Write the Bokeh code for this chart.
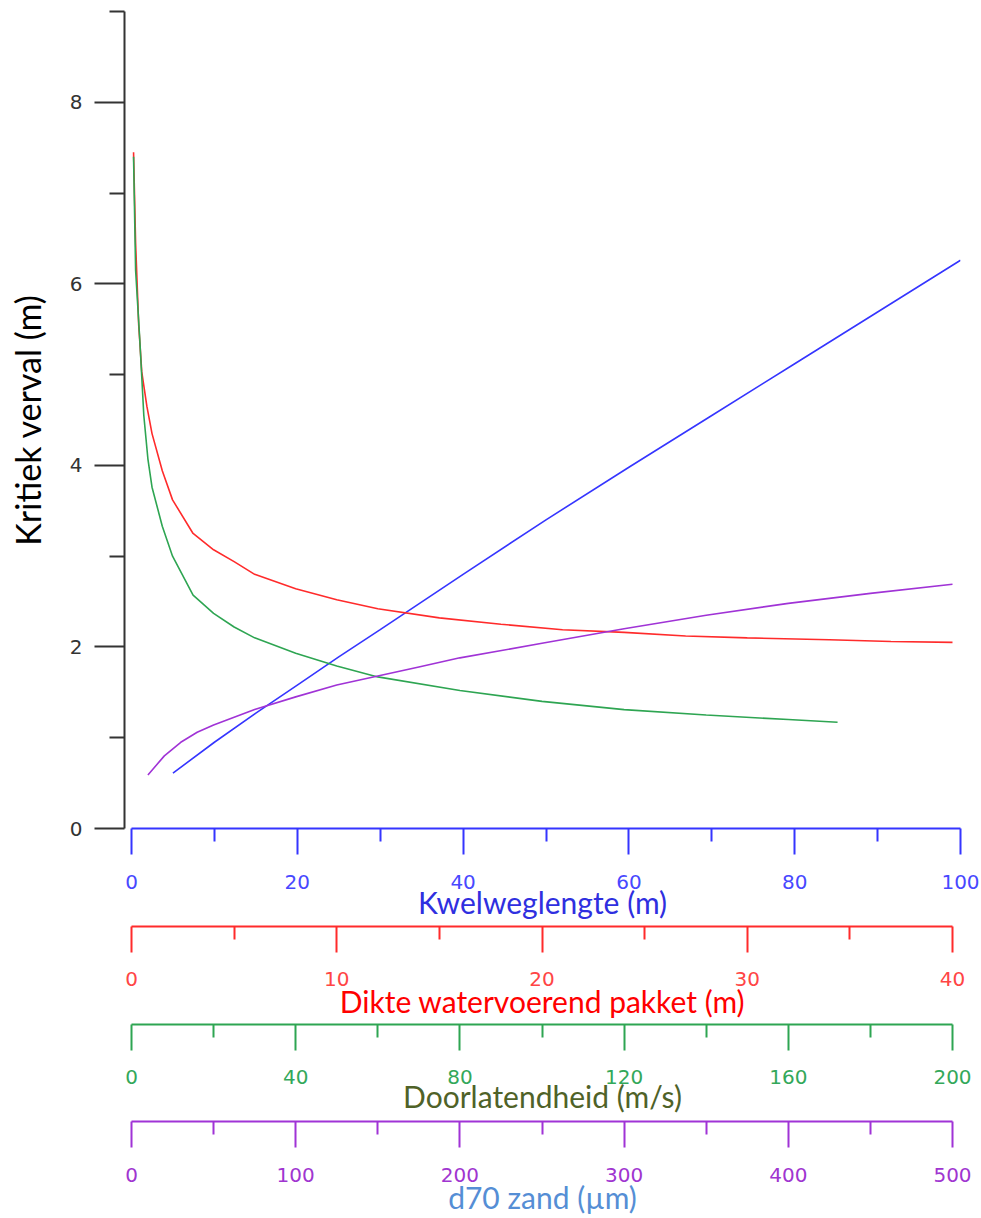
from bokeh.plotting import figure
from bokeh.models import Range1d, FixedTicker
from bokeh.layouts import column
from bokeh.embed import file_html
from bokeh.resources import INLINE

# ---------------- data ----------------
# Kwelweglengte (m) -> kritiek verval (m)
kwel_L = [5, 10, 15, 20, 25, 30, 40, 50, 60, 70, 80, 90, 100]
kwel_H = [0.61, 0.95, 1.27, 1.58, 1.89, 2.19, 2.80, 3.40, 3.98, 4.55, 5.12, 5.69, 6.26]

# Dikte watervoerend pakket (m) -> kritiek verval (m)
dikte_D = [0.1, 0.2, 0.35, 0.5, 0.75, 1, 1.5, 2, 3, 4, 5, 6, 8, 10, 12, 15, 18, 21, 24, 27, 30, 34, 37, 40]
dikte_H = [7.45, 6.45, 5.55, 5.03, 4.65, 4.35, 3.94, 3.62, 3.25, 3.07, 2.94, 2.80, 2.64, 2.52, 2.42, 2.32,
           2.25, 2.19, 2.16, 2.12, 2.10, 2.08, 2.06, 2.05]

# Doorlatendheid (m/s) -> kritiek verval (m)
door_k = [0.5, 1, 2, 3, 4, 5, 7.5, 10, 15, 20, 25, 30, 40, 50, 60, 80, 100, 120, 140, 160, 172]
door_H = [7.40, 6.15, 5.40, 4.55, 4.07, 3.76, 3.33, 3.00, 2.57, 2.37, 2.22, 2.10, 1.93, 1.79, 1.67, 1.52,
          1.40, 1.31, 1.25, 1.20, 1.17]

# d70 zand (um) -> kritiek verval (m)
d70_d = [10, 20, 30, 40, 50, 75, 100, 125, 150, 175, 200, 250, 300, 350, 400, 450, 500]
d70_H = [0.59, 0.80, 0.95, 1.06, 1.14, 1.31, 1.45, 1.58, 1.68, 1.78, 1.88, 2.04, 2.20, 2.35, 2.48, 2.59, 2.69]

# axis ticks
y_ticks = [0, 2, 4, 6, 8]
y_minor = [1, 3, 5, 7, 9]
kwel_ticks = [0, 20, 40, 60, 80, 100]
kwel_minor = [10, 30, 50, 70, 90]
dikte_ticks = [0, 10, 20, 30, 40]
dikte_minor = [5, 15, 25, 35]
door_ticks = [0, 40, 80, 120, 160, 200]
door_minor = [20, 60, 100, 140, 180]
d70_ticks = [0, 100, 200, 300, 400, 500]
d70_minor = [50, 150, 250, 350, 450]

# ---------------- layout (pixels) ----------------
W = 981
FRAME_L, FRAME_R, FRAME_T = 124, 960, 11
MAIN_H = 922
ZERO_PX = 131

TICK_FONT = "DejaVu Sans"
TITLE_FONT = "Lato"
BLUE, RED, GREEN, PURPLE = "#3535ff", "#ff2b2b", "#2ea552", "#a033d6"


def make_range(vmax, end_px):
    scale = (end_px - ZERO_PX) / vmax
    return Range1d(start=-(ZERO_PX - FRAME_L) / scale, end=vmax + (FRAME_R - end_px) / scale)


def style_x(ax, vmax, color, label_color, title, title_color, ticks, minor, label_standoff, title_standoff):
    ax.ticker = FixedTicker(ticks=ticks, minor_ticks=minor)
    ax.bounds = (0, vmax)
    ax.axis_line_color = color
    ax.axis_line_width = 2
    ax.major_tick_line_color = color
    ax.major_tick_line_width = 2
    ax.minor_tick_line_color = color
    ax.minor_tick_line_width = 2
    ax.major_tick_in = 0
    ax.major_tick_out = 26
    ax.minor_tick_in = 0
    ax.minor_tick_out = 13
    ax.major_label_text_color = label_color
    ax.major_label_text_font = TICK_FONT
    ax.major_label_text_font_size = "20px"
    ax.major_label_standoff = label_standoff
    ax.axis_label = title
    ax.axis_label_text_color = title_color
    ax.axis_label_text_font = TITLE_FONT
    ax.axis_label_text_font_size = "30px"
    ax.axis_label_text_font_style = "normal"
    ax.axis_label_standoff = title_standoff


def clean(f):
    f.grid.visible = False
    f.outline_line_color = None
    f.background_fill_color = "white"
    f.border_fill_color = "white"


# main figure with the curves, the y axis and the Kwelweglengte axis
p = figure(width=W, height=MAIN_H, output_backend="svg", toolbar_location=None,
           x_range=make_range(100, 960), y_range=Range1d(0, 9),
           min_border_top=FRAME_T, min_border_left=FRAME_L, min_border_right=W - FRAME_R,
           min_border_bottom=0)
clean(p)
p.extra_x_ranges = {
    "dikte": make_range(40, 952),
    "door": make_range(200, 952),
    "d70": make_range(500, 952),
}
style_x(p.xaxis[0], 100, BLUE, "#4848ff", "Kwelweglengte (m)", "#2f2fe0", kwel_ticks, kwel_minor, 20, -8)

ya = p.yaxis[0]
ya.ticker = FixedTicker(ticks=y_ticks, minor_ticks=y_minor)
ya.axis_line_color = "#333333"
ya.axis_line_width = 2
ya.major_tick_line_color = "#333333"
ya.major_tick_line_width = 2
ya.minor_tick_line_color = "#333333"
ya.minor_tick_line_width = 2
ya.major_tick_in = 0
ya.major_tick_out = 30
ya.minor_tick_in = 0
ya.minor_tick_out = 15
ya.major_label_text_color = "#333333"
ya.major_label_text_font = TICK_FONT
ya.major_label_text_font_size = "20px"
ya.major_label_standoff = 12
ya.axis_label = "Kritiek verval (m)"
ya.axis_label_text_color = "black"
ya.axis_label_text_font = TITLE_FONT
ya.axis_label_text_font_size = "34px"
ya.axis_label_text_font_style = "normal"
ya.axis_label_standoff = 19

p.line(kwel_L, kwel_H, line_color=BLUE, line_width=1.6)
p.line(dikte_D, dikte_H, line_color=RED, line_width=1.6, x_range_name="dikte")
p.line(door_k, door_H, line_color=GREEN, line_width=1.6, x_range_name="door")
p.line(d70_d, d70_H, line_color=PURPLE, line_width=1.6, x_range_name="d70")


# the three extra scales, each a thin figure that shares the curve's range
def axis_figure(range_name, vmax, height, color, label_color, title, title_color,
                ticks, minor, label_standoff, title_standoff):
    f = figure(width=W, height=height, output_backend="svg", toolbar_location=None,
               x_range=p.extra_x_ranges[range_name], y_range=Range1d(0, 1),
               y_axis_location=None, min_border_top=0, min_border_bottom=0,
               min_border_left=FRAME_L, min_border_right=W - FRAME_R)
    clean(f)
    style_x(f.xaxis[0], vmax, color, label_color, title, title_color, ticks, minor,
            label_standoff, title_standoff)
    return f


fr = axis_figure("dikte", 40, 99, RED, "#ff4545", "Dikte watervoerend pakket (m)", "#ff0000",
                 dikte_ticks, dikte_minor, 19, -6)
fg = axis_figure("door", 200, 95, GREEN, "#33a85a", "Doorlatendheid (m/s)", "#4f6228",
                 door_ticks, door_minor, 19, -9)
fp = axis_figure("d70", 500, 101, PURPLE, "#a035d0", "d70 zand (\u00b5m)", "#558ed5",
                 d70_ticks, d70_minor, 20, -6)

layout = column(p, fr, fg, fp, spacing=0)
open("out.html", "w").write(file_html(layout, INLINE))
